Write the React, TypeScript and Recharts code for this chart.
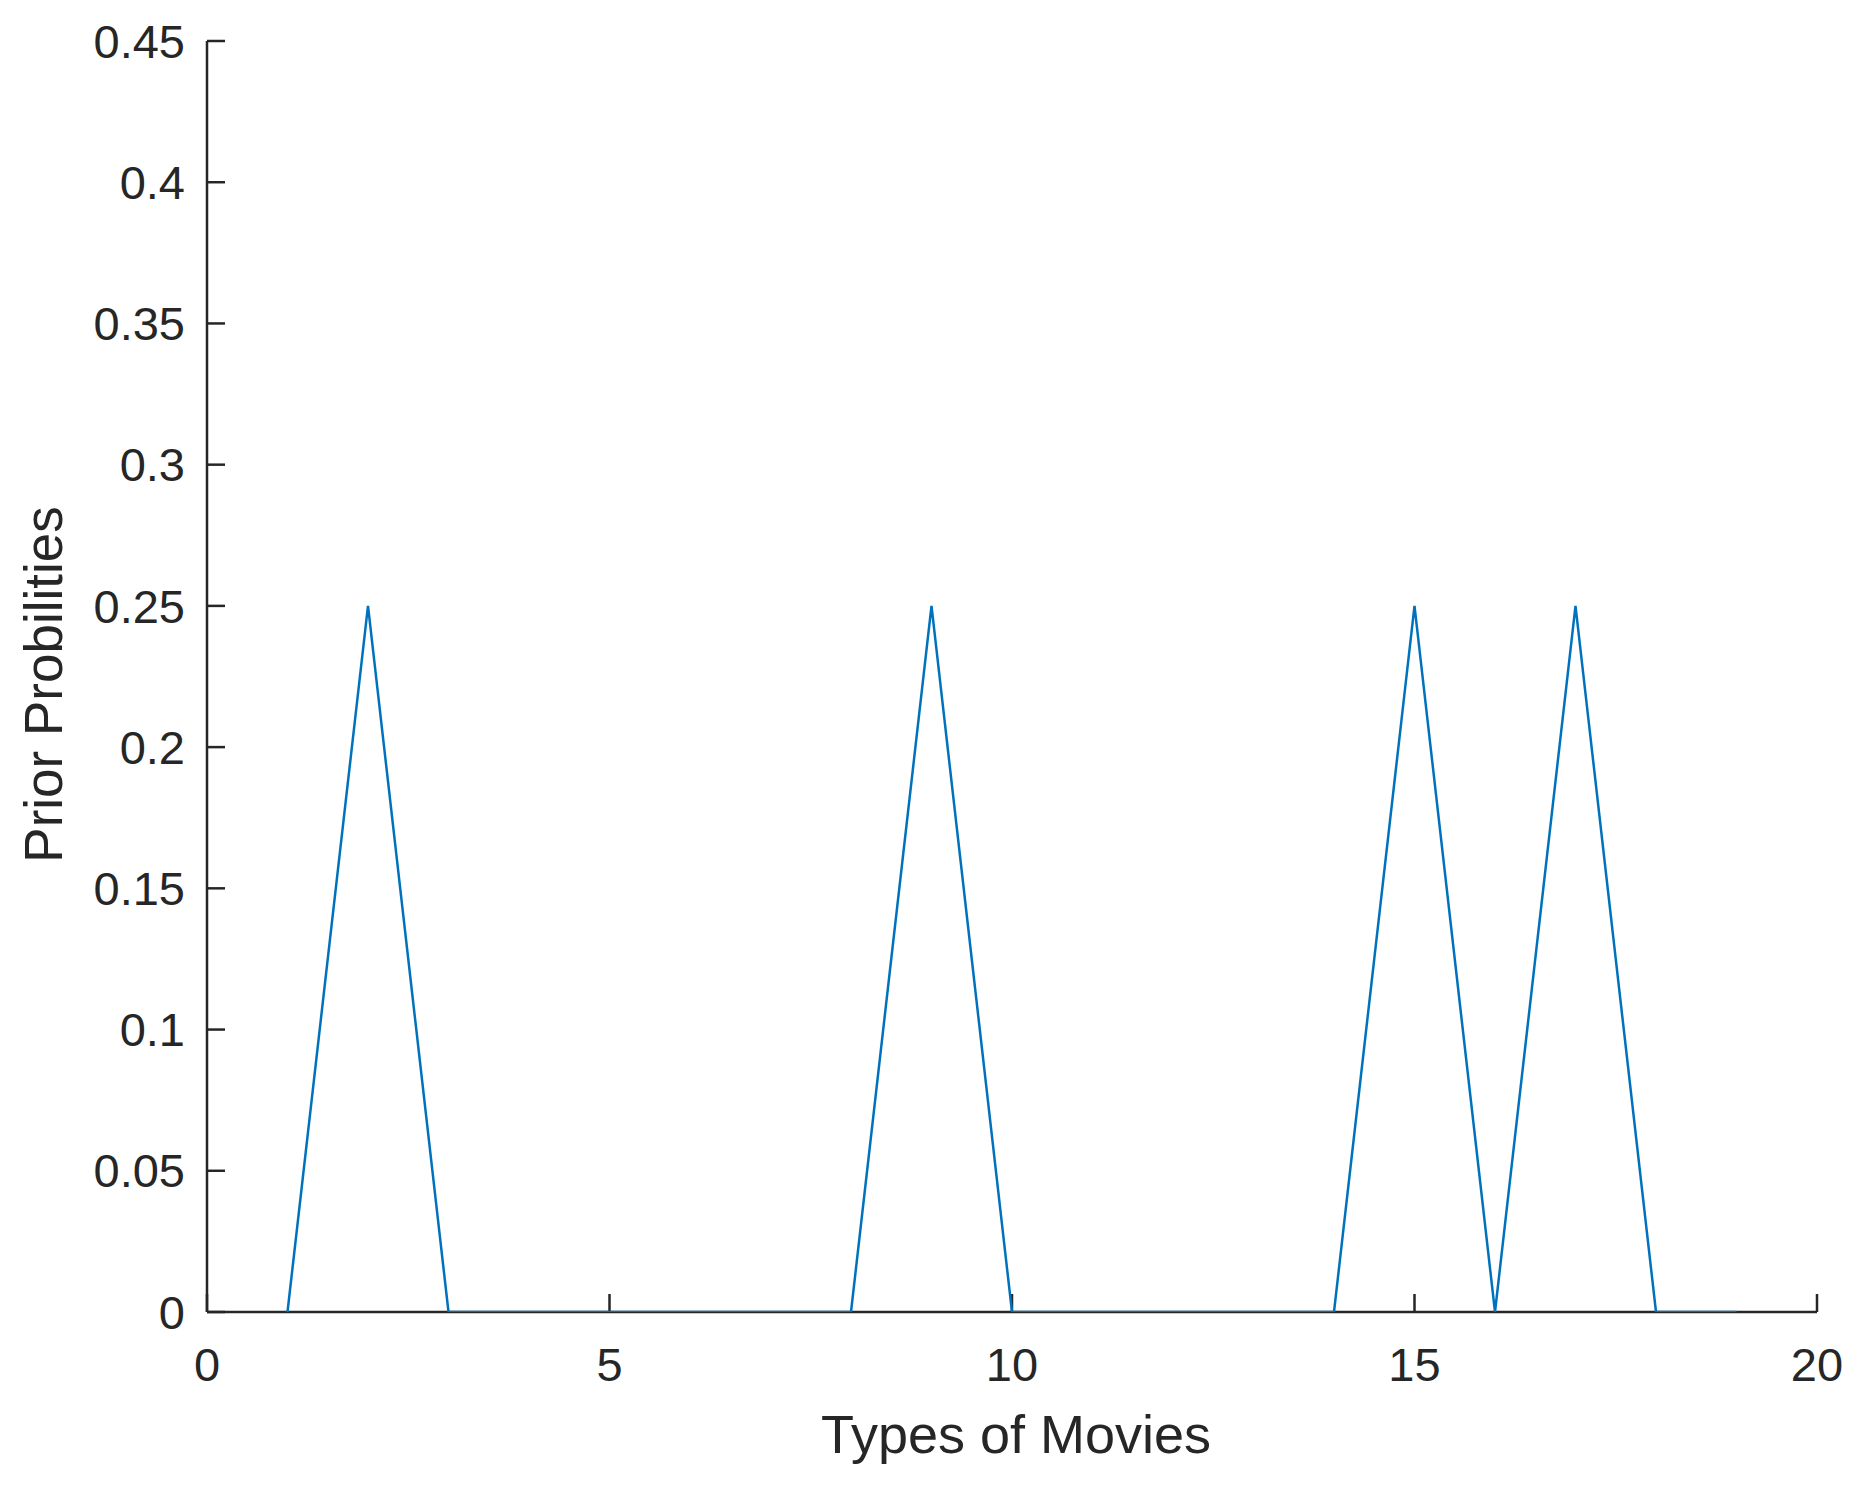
import { LineChart, Line, XAxis, YAxis } from "recharts";

// Types of movies (x) and their prior probabilities (y)
const movieTypes = [1, 2, 3, 4, 5, 6, 7, 8, 9, 10, 11, 12, 13, 14, 15, 16, 17, 18, 19];
const priorProbs = [0, 0.25, 0, 0, 0, 0, 0, 0, 0.25, 0, 0, 0, 0, 0, 0.25, 0, 0.25, 0, 0];

const xTicks = [0, 5, 10, 15, 20];
const yTicks = [0, 0.05, 0.1, 0.15, 0.2, 0.25, 0.3, 0.35, 0.4, 0.45];

const FONT = "'Liberation Sans', Arial, Helvetica, sans-serif";
const AXIS_COLOR = "#262626";
const LINE_COLOR = "#0072BD";

const data = movieTypes.map((t, i) => ({ type: t, prob: priorProbs[i] }));

export default function App() {
  return (
    <div style={{ width: 1861, height: 1479, background: "#fff" }}>
      <LineChart
        width={1861}
        height={1479}
        data={data}
        margin={{ top: 33, right: 52, bottom: 0, left: 0 }}
      >
        <XAxis
          dataKey="type"
          type="number"
          domain={[0, 20]}
          ticks={xTicks}
          interval={0}
          height={175}
          allowDataOverflow
          stroke={AXIS_COLOR}
          strokeWidth={2.5}
          tickSize={-18}
          tickMargin={54}
          tickLine={{ stroke: AXIS_COLOR, strokeWidth: 2.5 }}
          tick={{ fontSize: 47, fill: AXIS_COLOR, fontFamily: FONT }}
          label={{
            position: "bottom",
            content: ({ viewBox }: any) => (
              <text
                x={viewBox.x + viewBox.width / 2 + 4}
                y={viewBox.y + 141}
                textAnchor="middle"
                fontSize={54}
                fontFamily={FONT}
                fill={AXIS_COLOR}
              >
                Types of Movies
              </text>
            ),
          }}
        />
        <YAxis
          dataKey="prob"
          type="number"
          domain={[0, 0.45]}
          ticks={yTicks}
          interval={0}
          width={199}
          allowDataOverflow
          stroke={AXIS_COLOR}
          strokeWidth={2.5}
          tickSize={-18}
          tickMargin={40}
          tickLine={{ stroke: AXIS_COLOR, strokeWidth: 2.5 }}
          tick={{ fontSize: 47, fill: AXIS_COLOR, fontFamily: FONT }}
          label={{
            position: "left",
            content: ({ viewBox }: any) => {
              const cx = 54;
              const cy = viewBox.y + viewBox.height / 2 + 8;
              return (
                <text
                  x={cx}
                  y={cy}
                  transform={`rotate(-90, ${cx}, ${cy})`}
                  textAnchor="middle"
                  fontSize={53}
                  fontFamily={FONT}
                  fill={AXIS_COLOR}
                >
                  Prior Probilities
                </text>
              );
            },
          }}
        />
        <Line
          dataKey="prob"
          type="linear"
          stroke={LINE_COLOR}
          strokeWidth={2.5}
          dot={false}
          activeDot={false}
          zIndex={1000}
          isAnimationActive={false}
        />
      </LineChart>
    </div>
  );
}
